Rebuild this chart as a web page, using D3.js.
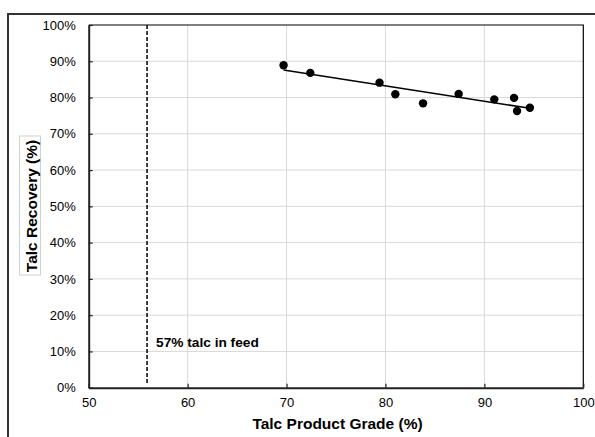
<!DOCTYPE html>
<html>
<head>
<meta charset="utf-8">
<script src="https://cdn.jsdelivr.net/npm/d3@7"></script>
<style>
  body { margin: 0; background: #fff; }
  svg { display: block; font-family: "Liberation Sans", Arial, sans-serif; }
  .grid line { stroke: #d9d9d9; stroke-width: 1; }
</style>
</head>
<body>
<div id="chart"></div>
<script>
// --- data ---
const grade = [69.7, 72.4, 79.4, 81.0, 83.8, 87.4, 91.0, 93.0, 93.3, 94.6];
const recovery = [88.9, 86.8, 84.1, 80.9, 78.4, 81.0, 79.5, 79.9, 76.3, 77.2];
const xTicks = [50, 60, 70, 80, 90, 100];
const yTicks = [0, 10, 20, 30, 40, 50, 60, 70, 80, 90, 100];
const feedGrade = 55.9;
const feedLabel = "57% talc in feed";

const width = 595, height = 437;
const plotL = 88.7, plotR = 583.3, plotT = 25, plotB = 387.7;
const font = '"Liberation Sans", Arial, sans-serif';

const svg = d3.select("#chart").append("svg")
    .attr("width", width)
    .attr("height", height);

const x = d3.scaleLinear().domain([50, 100]).range([plotL, plotR]);
const y = d3.scaleLinear().domain([0, 100]).range([plotB, plotT]);

// outer frame (top + left only visible)
svg.append("path")
    .attr("d", `M8,${height} L8,14 L${width},14`)
    .attr("fill", "none")
    .attr("stroke", "#333")
    .attr("stroke-width", 2);

// gridlines
const grid = svg.append("g").attr("class", "grid");
grid.selectAll(".gx").data(xTicks.slice(1, -1)).enter().append("line")
    .attr("x1", d => x(d)).attr("x2", d => x(d))
    .attr("y1", plotT).attr("y2", plotB);
grid.selectAll(".gy").data(yTicks.slice(1, -1)).enter().append("line")
    .attr("x1", plotL).attr("x2", plotR)
    .attr("y1", d => y(d)).attr("y2", d => y(d));

// top / right border of the plot
svg.append("path")
    .attr("d", `M${plotL},${plotT} L${plotR},${plotT} L${plotR},${plotB}`)
    .attr("fill", "none")
    .attr("stroke", "#000")
    .attr("stroke-width", 1.2);

// axes (ticks point inward)
const xAxis = svg.append("g")
    .attr("transform", `translate(0,${plotB})`)
    .call(d3.axisBottom(x).tickValues(xTicks).tickSizeInner(-4).tickSizeOuter(0).tickPadding(10));
const yAxis = svg.append("g")
    .attr("transform", `translate(${plotL},0)`)
    .call(d3.axisLeft(y).tickValues(yTicks).tickSizeInner(-4).tickSizeOuter(0).tickPadding(13)
        .tickFormat(d => d + "%"));
[xAxis, yAxis].forEach(a => {
    a.attr("font-size", 13).attr("font-family", font);
    a.select(".domain").attr("stroke", "#222").attr("stroke-width", 2);
    a.selectAll(".tick line").attr("stroke", "#222").attr("stroke-width", 1.2);
    a.selectAll(".tick text").attr("fill", "#000");
});

// feed grade marker
svg.append("line")
    .attr("x1", x(feedGrade)).attr("x2", x(feedGrade))
    .attr("y1", plotT).attr("y2", plotB - 3)
    .attr("stroke", "#000")
    .attr("stroke-width", 1.5)
    .attr("stroke-dasharray", "4,2");
svg.append("text")
    .attr("x", x(feedGrade) + 9)
    .attr("y", y(10) - 4.7)
    .attr("font-size", 13.7)
    .attr("font-weight", "bold")
    .text(feedLabel);

// linear trend (least squares)
const mx = d3.mean(grade), my = d3.mean(recovery);
const slope = d3.sum(grade, (g, i) => (g - mx) * (recovery[i] - my)) /
    d3.sum(grade, g => (g - mx) * (g - mx));
const icpt = my - slope * mx;
const [x0, x1] = d3.extent(grade);
svg.append("line")
    .attr("x1", x(x0)).attr("y1", y(icpt + slope * x0))
    .attr("x2", x(x1)).attr("y2", y(icpt + slope * x1))
    .attr("stroke", "#000")
    .attr("stroke-width", 1.5);

// points
svg.append("g").selectAll("circle")
    .data(grade.map((g, i) => [g, recovery[i]]))
    .enter().append("circle")
    .attr("cx", d => x(d[0]))
    .attr("cy", d => y(d[1]))
    .attr("r", 4.2)
    .attr("fill", "#000");

// axis titles
svg.append("text")
    .attr("x", 337.5)
    .attr("y", 429)
    .attr("text-anchor", "middle")
    .attr("font-size", 15.5)
    .attr("font-weight", "bold")
    .text("Talc Product Grade (%)");

svg.append("rect")
    .attr("x", 19.5).attr("y", 136)
    .attr("width", 21).attr("height", 139)
    .attr("fill", "none")
    .attr("stroke", "#d0d0d0");
svg.append("text")
    .attr("transform", "translate(36.5,206) rotate(-90)")
    .attr("text-anchor", "middle")
    .attr("font-size", 15.5)
    .attr("font-weight", "bold")
    .text("Talc Recovery (%)");
</script>
</body>
</html>
